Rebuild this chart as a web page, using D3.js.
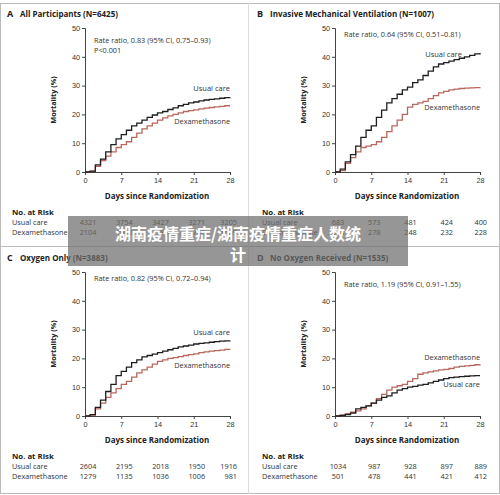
<!DOCTYPE html>
<html><head><meta charset="utf-8">
<script src="https://cdn.jsdelivr.net/npm/d3@7"></script>
<style>
body{margin:0;background:#fff;font-family:"Open Sans","Noto Sans",sans-serif;}
</style></head>
<body><svg id="chart" width="500" height="495"></svg>
<script>
var days = d3.range(0, 29);
var xTicks = [0, 7, 14, 21, 28];
var yTicks = [0, 10, 20, 30, 40, 50];

var titles = ["All Participants (N=6425)", "Invasive Mechanical Ventilation (N=1007)",
  "Oxygen Only (N=3883)", "No Oxygen Received (N=1535)"];
var letters = ["A", "B", "C", "D"];
var ratioText = [["Rate ratio, 0.83 (95% CI, 0.75\u20130.93)", "P<0.001"],
  ["Rate ratio, 0.64 (95% CI, 0.51\u20130.81)"],
  ["Rate ratio, 0.82 (95% CI, 0.72\u20130.94)"],
  ["Rate ratio, 1.19 (95% CI, 0.91\u20131.55)"]];

var usualA = [0,0.3,2.5,4.5,7,9.5,11.5,13,14.5,16,17,18,19,19.8,20.5,21,21.7,22.3,23,23.5,24,24.3,24.7,25,25.2,25.4,25.6,25.8,25.9];
var dexaA = [0,0.2,2,4,5.5,7,8.5,9.5,10.5,12,13.5,15,16,17,18,18.8,19.5,20,20.5,21,21.3,21.6,21.9,22.2,22.4,22.6,22.8,23,23];
var usualB = [0,1,3.5,6,9,12,14.5,16,19,21.5,24,25.5,27,28.5,29.5,31,32,33.5,35,36.5,37.5,38,38.5,39,39.5,40,40.5,41,41.3];
var dexaB = [0,0.5,3,5,7,8.5,9,9.5,10.5,12,14,16,18,20,22.5,23.5,24,24.5,25.5,26.5,27.5,28,28.5,28.8,29,29.1,29.2,29.3,29.4];
var usualC = [0,0.5,3,5.5,8.5,11,14,15.5,17,18.5,19.5,20.5,21,21.5,22,22.5,23,23.5,24,24.3,24.6,25,25.2,25.4,25.6,25.8,26,26.1,26.2];
var dexaC = [0,0.3,2.5,4.5,6.5,8,9.5,11,12,13.5,15,16,17,18,19,19.5,20,20.3,20.6,21,21.3,21.6,22,22.3,22.5,22.7,22.9,23.1,23.2];
var usualD = [0,0.2,0.5,1,2.5,3,3.5,4.5,5.5,6.5,7,8,9,9.5,10,10.3,10.7,11,11.5,12,12.5,13,13.3,13.5,13.7,13.8,13.9,14,14];
var dexaD = [0,0.3,0.8,1.3,1.8,2.5,3.5,4.5,6,7.5,9,10,10.5,11,12,13,14.5,15,15.3,15.7,16,16.2,16.5,17,17.2,17.4,17.6,17.8,18];

var riskUsual = [[4321,3754,3427,3271,3205],[683,573,481,424,400],[2604,2195,2018,1950,1916],[1034,987,928,897,889]];
var riskDexa = [[2104,1902,1789,1708,1669],[324,278,248,232,228],[1279,1135,1036,1006,981],[501,478,441,421,412]];

var series = [[usualA, dexaA], [usualB, dexaB], [usualC, dexaC], [usualD, dexaD]];
// label positions in data units [day, value] for usual / dexa
var labelPos = [[[28, 28], [28, 16.5]], [[24.5, 39.8], [28, 21.5]], [[28, 28], [28, 16.5]], [[28, 10], [28, 19.5]]];
var ratioY = [43, 37, 37, 43];

var svg = d3.select("#chart");
var usualColor = "#1e1e1e", dexaColor = "#b8685c";

// frame lines
svg.append("rect").attr("x", 0.5).attr("y", 3.5).attr("width", 499).attr("height", 490)
  .attr("fill", "none").attr("stroke", "#bbb");
svg.append("line").attr("x1", 0).attr("x2", 500).attr("y1", 246.5).attr("y2", 246.5).attr("stroke", "#bbb");
svg.append("line").attr("x1", 248.5).attr("x2", 248.5).attr("y1", 3).attr("y2", 494).attr("stroke", "#ddd");

for (var p = 0; p < 4; p++) {
  var ox = (p % 2) * 250, oy = p < 2 ? 0 : 244;
  var g = svg.append("g").attr("transform", "translate(" + ox + "," + oy + ")");
  var x = d3.scaleLinear().domain([0, 28]).range([85, 230]);
  var y = d3.scaleLinear().domain([0, 50]).range([172, 28]);

  g.append("text").attr("x", 7).attr("y", 17).attr("font-size", 9).attr("font-weight", "bold")
    .attr("fill", "#222").text(letters[p]);
  g.append("text").attr("x", 20).attr("y", 17).attr("font-size", 8).attr("font-weight", "bold")
    .attr("fill", "#222").text(titles[p]);

  var ya = g.append("g").attr("transform", "translate(85,0)")
    .call(d3.axisLeft(y).tickValues(yTicks).tickSize(3).tickPadding(2));
  var xa = g.append("g").attr("transform", "translate(0,172)")
    .call(d3.axisBottom(x).tickValues(xTicks).tickSize(3).tickPadding(3));
  [ya, xa].forEach(function(a) {
    a.selectAll("text").attr("font-size", 7.3).attr("fill", "#333").attr("font-family", "inherit");
    a.selectAll("path,line").attr("stroke", "#444");
  });

  g.append("text").attr("transform", "translate(56,100) rotate(-90)").attr("text-anchor", "middle")
    .attr("font-size", 7.3).attr("font-weight", "bold").attr("fill", "#222").text("Mortality (%)");
  g.append("text").attr("x", 157).attr("y", 199).attr("text-anchor", "middle")
    .attr("font-size", 8).attr("font-weight", "bold").attr("fill", "#222").text("Days since Randomization");

  ratioText[p].forEach(function(t, i) {
    g.append("text").attr("x", 94).attr("y", ratioY[p] + i * 10).attr("font-size", 7.3).attr("fill", "#333").text(t);
  });

  var line = d3.line().x(function(d, i) { return x(days[i]); }).y(function(d) { return y(d); })
    .curve(d3.curveStepAfter);
  g.append("path").datum(series[p][1]).attr("d", line).attr("fill", "none")
    .attr("stroke", dexaColor).attr("stroke-width", 1.3);
  g.append("path").datum(series[p][0]).attr("d", line).attr("fill", "none")
    .attr("stroke", usualColor).attr("stroke-width", 1.3);

  g.append("text").attr("x", x(labelPos[p][0][0])).attr("y", y(labelPos[p][0][1]))
    .attr("text-anchor", "end").attr("font-size", 7.5).attr("fill", "#333").text("Usual care");
  g.append("text").attr("x", x(labelPos[p][1][0])).attr("y", y(labelPos[p][1][1]))
    .attr("text-anchor", "end").attr("font-size", 7.3).attr("fill", "#333").text("Dexamethasone");

  g.append("text").attr("x", 12).attr("y", 215).attr("font-size", 7.8).attr("font-weight", "bold")
    .attr("fill", "#222").text("No. at Risk");
  g.append("text").attr("x", 12).attr("y", 225).attr("font-size", 7.3).attr("fill", "#333").text("Usual care");
  g.append("text").attr("x", 12).attr("y", 235).attr("font-size", 7.3).attr("fill", "#333").text("Dexamethasone");
  xTicks.forEach(function(t, i) {
    var tx = i === 4 ? x(t) + 7 : x(t) + 3;
    g.append("text").attr("x", tx).attr("y", 225).attr("text-anchor", i === 4 ? "end" : "middle")
      .attr("font-size", 7.3).attr("fill", "#333").text(riskUsual[p][i]);
    g.append("text").attr("x", tx).attr("y", 235).attr("text-anchor", i === 4 ? "end" : "middle")
      .attr("font-size", 7.3).attr("fill", "#333").text(riskDexa[p][i]);
  });
}

// watermark overlay
svg.append("rect").attr("x", 68).attr("y", 216).attr("width", 340).attr("height", 50)
  .attr("fill", "#6e6e6e").attr("opacity", 0.72);
svg.append("text").attr("x", 238).attr("y", 240).attr("text-anchor", "middle")
  .attr("font-family", "Noto Sans CJK SC").attr("font-size", 16).attr("font-weight", "bold")
  .attr("fill", "#fff").text("湖南疫情重症/湖南疫情重症人数统");
svg.append("text").attr("x", 238).attr("y", 261).attr("text-anchor", "middle")
  .attr("font-family", "Noto Sans CJK SC").attr("font-size", 16).attr("font-weight", "bold")
  .attr("fill", "#fff").text("计");
</script></body></html>
